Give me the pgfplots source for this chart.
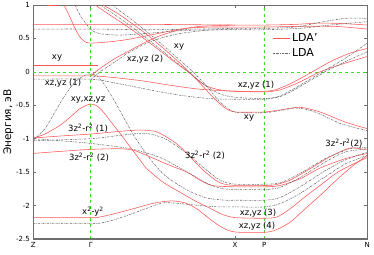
\documentclass[border=0pt]{standalone}
\usepackage{fontspec}
\setmainfont{DejaVu Sans}
\usepackage{pgfplots}
\pgfplotsset{compat=1.18}
\definecolor{redl}{RGB}{255,85,85}
\definecolor{grayl}{RGB}{105,105,105}
\definecolor{grn}{RGB}{60,220,40}
\definecolor{frame}{RGB}{110,110,110}
\begin{document}
\begin{tikzpicture}
\begin{axis}[
  scale only axis, width=334pt, height=234pt,
  xmin=33.3, xmax=367.3, ymin=-2.5, ymax=1,
  xtick={33.3,90.7,235,264.3,367.3},
  xticklabels={Z,Γ,X,P,N},
  ytick={-2.5,-2,-1.5,-1,-0.5,0,0.5,1},
  /pgf/number format/assume math mode=true,
  ticklabel style={font=\fontsize{7}{8}\selectfont},
  tick align=inside,
  major tick length=3pt,
  tick style={frame, line width=0.6pt},
  axis line style={frame, line width=0.7pt},
  ylabel={Энергия, эВ},
  ylabel style={font=\fontsize{10.5}{12}\selectfont, yshift=-4pt},
  legend style={at={(rel axis cs:0.712,0.89)}, anchor=north west, draw=none, fill=white,
    font=\fontsize{11}{13}\selectfont, row sep=1pt, inner sep=1pt},
  legend cell align=left,
  every axis plot/.append style={line width=0.55pt},
]
\tikzset{rb/.style={redl, smooth, tension=0.45}, gb/.style={grayl, dash pattern=on 2pt off 1pt on 0.6pt off 1pt, smooth, tension=0.45}}
\addlegendimage{redl, line width=0.7pt}
\addlegendentry{LDA'}
\addlegendimage{grayl, line width=0.7pt, dash pattern=on 2pt off 1pt on 0.6pt off 1pt}
\addlegendentry{LDA}
% reference lines
\addplot[grn, dashed, forget plot] coordinates {(33.3,0) (367.3,0)};
\addplot[grn, dashed, forget plot] coordinates {(90.7,-2.5) (90.7,1)};
\addplot[grn, dashed, forget plot] coordinates {(264.3,-2.5) (264.3,1)};

% ---------- LDA' (red) ----------
\addplot[rb, forget plot] coordinates {(33.3,0.71) (90.7,0.71) (150,0.71) (235,0.70) (264.3,0.70) (295,0.71) (320,0.73) (345,0.72) (367.3,0.70)};
\addplot[rb, forget plot] coordinates {(47,0.995) (58,0.995)};
\addplot[rb, forget plot] coordinates {(64,1.0) (68,0.88) (72,0.75) (76,0.62) (80,0.52) (85,0.45) (90.7,0.43) (110,0.45) (130,0.49) (160,0.58) (185,0.65) (210,0.67) (235,0.67) (264.3,0.67) (300,0.68) (335,0.68) (367.3,0.64)};
\addplot[rb, forget plot] coordinates {(95,1.0) (110,0.85) (130,0.65) (150,0.43) (170,0.2) (188,0.0) (205,-0.2) (220,-0.27) (235,-0.29) (264.3,-0.29) (275,-0.27) (290,-0.18) (310,-0.02) (330,0.15) (350,0.28) (367.3,0.35)};
\addplot[rb, forget plot] coordinates {(103,1.0) (120,0.85) (145,0.58) (165,0.33) (185,0.06) (200,-0.17) (213,-0.38) (225,-0.54) (235,-0.6) (264.3,-0.6) (280,-0.57) (300,-0.53) (320,-0.6) (345,-0.75) (367.3,-0.85)};
\addplot[rb, forget plot] coordinates {(90.7,-0.06) (100,0.05) (115,0.2) (130,0.32) (145,0.44) (160,0.54) (180,0.63) (200,0.68) (235,0.70)};
\addplot[rb, forget plot] coordinates {(33.3,0.10) (90.7,0.10) (98,0.10)};
\addplot[rb, forget plot] coordinates {(33.3,-0.06) (90.7,-0.06) (110,-0.08) (140,-0.13) (170,-0.2) (200,-0.26) (235,-0.29) (264.3,-0.30) (280,-0.27) (300,-0.15) (320,0.0) (345,0.13) (367.3,0.23)};
\addplot[rb, forget plot] coordinates {(33.3,-0.99) (45,-0.93) (60,-0.80) (70,-0.68) (80,-0.55) (90.7,-0.48) (98,-0.52) (105,-0.63) (110,-0.73) (120,-0.92) (130,-1.12) (140,-1.32) (147,-1.45) (163,-1.65) (180,-1.8) (195,-1.93) (210,-2.04) (222,-2.13) (235,-2.18) (264.3,-2.19) (277,-2.17) (290,-2.05) (305,-1.87) (320,-1.7) (340,-1.48) (367.3,-1.28)};
\addplot[rb, forget plot] coordinates {(33.3,-0.99) (60,-0.96) (90.7,-0.93) (120,-0.89) (140,-0.87) (155,-0.89) (165,-0.96) (177,-1.08) (187,-1.22) (197,-1.38) (207,-1.52) (220,-1.66) (235,-1.70) (264.3,-1.70) (275,-1.69) (290,-1.62) (310,-1.45) (330,-1.27) (350,-1.14) (367.3,-1.17)};
\addplot[rb, forget plot] coordinates {(33.3,-1.22) (60,-1.19) (90.7,-1.16) (120,-1.15) (135,-1.18) (153,-1.29) (170,-1.40) (187,-1.5) (200,-1.62) (212,-1.70) (235,-1.72) (264.3,-1.72) (280,-1.70) (300,-1.6) (320,-1.44) (345,-1.3) (367.3,-1.22)};
\addplot[rb, forget plot] coordinates {(33.3,-2.18) (90.7,-2.18) (97,-2.18) (115,-2.12) (135,-2.04) (155,-1.96) (172,-1.93) (185,-1.96) (197,-2.05) (208,-2.18) (220,-2.31) (230,-2.38) (240,-2.40) (264.3,-2.40) (275,-2.37) (290,-2.25) (305,-2.05) (320,-1.85) (340,-1.57) (355,-1.38) (367.3,-1.25)};

% ---------- LDA (gray) ----------
\addplot[gb, forget plot] coordinates {(33.3,0.64) (90.7,0.64) (150,0.63) (200,0.64) (235,0.65) (264.3,0.65) (295,0.67) (320,0.74) (345,0.80) (367.3,0.80)};
\addplot[gb, forget plot] coordinates {(75,1.0) (80,0.85) (86,0.72) (92,0.62) (100,0.57) (120,0.55) (150,0.58) (185,0.62) (235,0.63) (264.3,0.63) (300,0.65) (330,0.70) (367.3,0.75)};
\addplot[gb, forget plot] coordinates {(100,1.0) (120,0.8) (145,0.52) (170,0.22) (190,-0.02) (205,-0.2) (220,-0.33) (235,-0.38) (264.3,-0.40) (280,-0.36) (300,-0.2) (320,-0.02) (345,0.2) (367.3,0.43)};
\addplot[gb, forget plot] coordinates {(112,1.0) (130,0.8) (155,0.5) (175,0.24) (193,0.0) (207,-0.22) (220,-0.45) (235,-0.6) (264.3,-0.61) (280,-0.58) (297,-0.54) (315,-0.6) (340,-0.77) (367.3,-0.88)};
\addplot[gb, forget plot] coordinates {(90.7,-0.12) (100,0.0) (115,0.15) (130,0.3) (150,0.45) (175,0.56) (205,0.62) (235,0.64)};
\addplot[gb, forget plot] coordinates {(33.3,-0.11) (90.7,-0.11) (120,-0.18) (150,-0.27) (180,-0.35) (210,-0.4) (235,-0.41) (264.3,-0.41) (282,-0.36) (300,-0.22) (325,0.0) (345,0.15) (367.3,0.3)};
\addplot[gb, forget plot] coordinates {(33.3,-1.02) (45,-0.85) (55,-0.6) (65,-0.35) (75,-0.15) (85,-0.05) (90.7,-0.03) (97,-0.06) (105,-0.2) (115,-0.45) (125,-0.72) (135,-0.98) (150,-1.3) (165,-1.55) (185,-1.75) (205,-1.88) (225,-1.92) (235,-1.92) (264.3,-1.92) (280,-1.88) (300,-1.72) (325,-1.48) (345,-1.32) (367.3,-1.2)};
\addplot[gb, forget plot] coordinates {(33.3,-1.0) (60,-1.03) (90.7,-1.07) (130,-1.15) (160,-1.28) (185,-1.48) (205,-1.65) (220,-1.74) (235,-1.76) (264.3,-1.76) (280,-1.73) (300,-1.58) (325,-1.35) (345,-1.2) (367.3,-1.15)};
\addplot[gb, forget plot] coordinates {(33.3,-1.03) (90.7,-1.0) (120,-0.95) (145,-0.92) (165,-1.0) (185,-1.2) (205,-1.45) (220,-1.62) (235,-1.68) (264.3,-1.68) (280,-1.66) (300,-1.52) (325,-1.3) (350,-1.15) (367.3,-1.13)};
\addplot[gb, forget plot] coordinates {(33.3,-2.27) (90.7,-2.27) (105,-2.25) (125,-2.16) (145,-2.05) (163,-1.96) (180,-1.97) (200,-2.0) (220,-2.02) (235,-2.02) (264.3,-2.02) (280,-1.97) (300,-1.82) (320,-1.62) (345,-1.38) (367.3,-1.25)};

% labels
\tikzset{lbl/.style={font=\fontsize{8.5}{9}\selectfont, inner sep=0.5pt}}
\node[lbl] at (axis cs:57,0.20) {xy};
\node[lbl] at (axis cs:63,-0.17) {xz,yz (1)};
\node[lbl] at (axis cs:88,-0.42) {xy,xz,yz};
\node[lbl] at (axis cs:88,-0.85) {3z\textsuperscript{2}-r\textsuperscript{2} (1)};
\node[lbl] at (axis cs:89,-1.28) {3z\textsuperscript{2}-r\textsuperscript{2} (2)};
\node[lbl] at (axis cs:93,-2.09) {x\textsuperscript{2}-y\textsuperscript{2}};
\node[lbl] at (axis cs:145,0.19) {xz,yz (2)};
\node[lbl] at (axis cs:179,0.37) {xy};
\node[lbl] at (axis cs:256,-0.20) {xz,yz (1)};
\node[lbl] at (axis cs:249,-0.69) {xy};
\node[lbl] at (axis cs:205,-1.25) {3z\textsuperscript{2}-r\textsuperscript{2} (2)};
\node[lbl] at (axis cs:344,-1.07) {3z\textsuperscript{2}-r\textsuperscript{2}(2)};
\node[lbl] at (axis cs:258,-2.12) {xz,yz (3)};
\node[lbl] at (axis cs:257,-2.31) {xz,yz (4)};
\draw[frame, line width=2pt] (rel axis cs:0,0) -- (rel axis cs:1,0);
\end{axis}
\pgfresetboundingbox
\path[use as bounding box] ([xshift=-33.3pt,yshift=-16pt]current axis.south west) rectangle ([xshift=6.7pt,yshift=5pt]current axis.north east);
\end{tikzpicture}
\end{document}
